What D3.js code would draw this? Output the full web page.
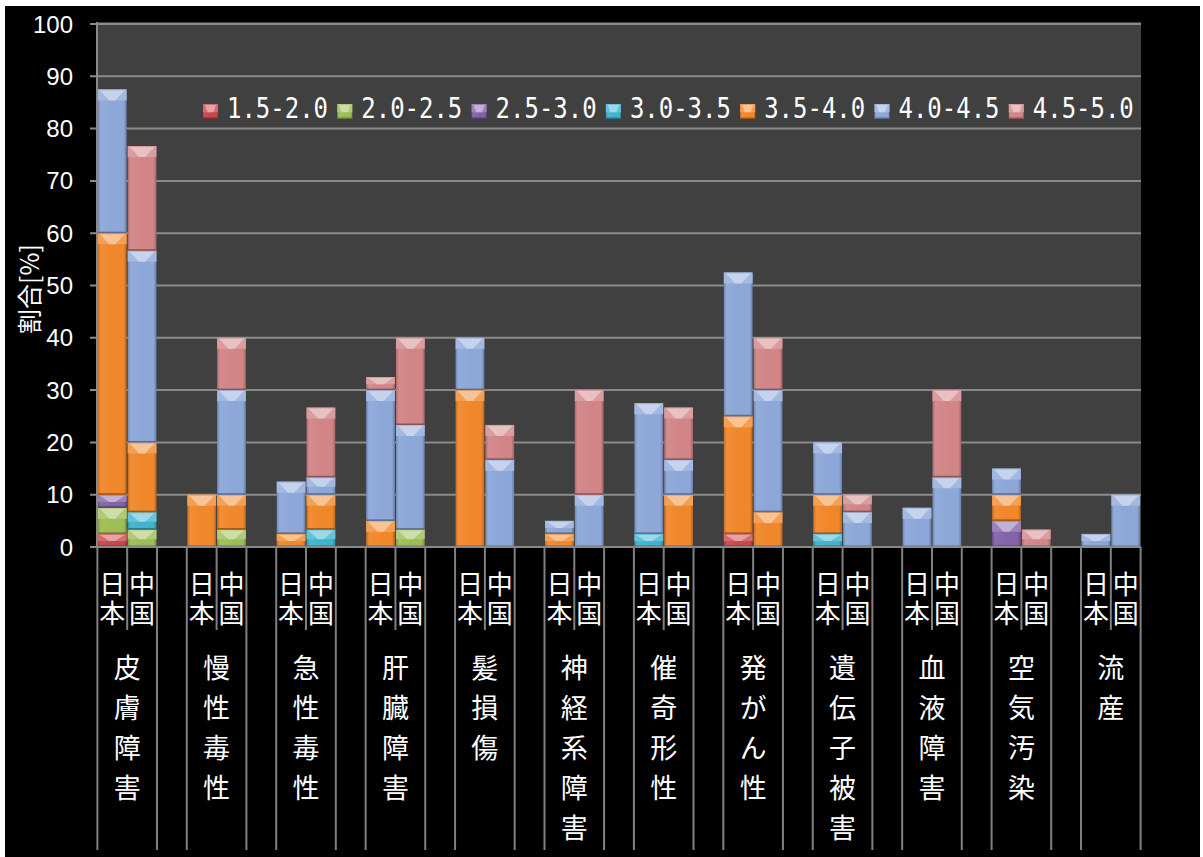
<!DOCTYPE html>
<html>
<head>
<meta charset="utf-8">
<script src="https://cdn.jsdelivr.net/npm/d3@7"></script>
<style>
  html, body { margin: 0; padding: 0; background: #ffffff; }
  svg { display: block; }
  .vert { writing-mode: vertical-rl; text-orientation: upright; }
</style>
</head>
<body>
<svg id="chart" width="1203" height="857"></svg>
<script>
// ---- data -------------------------------------------------------------
const categories = ["皮膚障害", "慢性毒性", "急性毒性", "肝臓障害", "髪損傷", "神経系障害",
                    "催奇形性", "発がん性", "遺伝子被害", "血液障害", "空気汚染", "流産"];
const countries = ["日本", "中国"];
const seriesNames = ["1.5-2.0", "2.0-2.5", "2.5-3.0", "3.0-3.5", "3.5-4.0", "4.0-4.5", "4.5-5.0"];
const seriesColors = ["#c8474b", "#9dbd55", "#8263a8", "#3fb3cf", "#f0872a", "#8ca7d8", "#d18587"];
const yTicks = [0, 10, 20, 30, 40, 50, 60, 70, 80, 90, 100];

// share [%] per category, Japan (日本)
const jp_15_20 = [2.5, 0, 0, 0, 0, 0, 0, 2.5, 0, 0, 0, 0];
const jp_20_25 = [5, 0, 0, 0, 0, 0, 0, 0, 0, 0, 0, 0];
const jp_25_30 = [2.5, 0, 0, 0, 0, 0, 0, 0, 0, 0, 5, 0];
const jp_30_35 = [0, 0, 0, 0, 0, 0, 2.5, 0, 2.5, 0, 0, 0];
const jp_35_40 = [50, 10, 2.5, 5, 30, 2.5, 0, 22.5, 7.5, 0, 5, 0];
const jp_40_45 = [27.5, 0, 10, 25, 10, 2.5, 25, 27.5, 10, 7.5, 5, 2.5];
const jp_45_50 = [0, 0, 0, 2.5, 0, 0, 0, 0, 0, 0, 0, 0];

// share [%] per category, China (中国)
const cn_15_20 = [0, 0, 0, 0, 0, 0, 0, 0, 0, 0, 0, 0];
const cn_20_25 = [3.33, 3.33, 0, 3.33, 0, 0, 0, 0, 0, 0, 0, 0];
const cn_25_30 = [0, 0, 0, 0, 0, 0, 0, 0, 0, 0, 0, 0];
const cn_30_35 = [3.33, 0, 3.33, 0, 0, 0, 0, 0, 0, 0, 0, 0];
const cn_35_40 = [13.33, 6.67, 6.67, 0, 0, 0, 10, 6.67, 0, 0, 0, 0];
const cn_40_45 = [36.67, 20, 3.33, 20, 16.67, 10, 6.67, 23.33, 6.67, 13.33, 0, 10];
const cn_45_50 = [20, 10, 13.33, 16.67, 6.67, 20, 10, 10, 3.33, 16.67, 3.33, 0];

const jpSeries = [jp_15_20, jp_20_25, jp_25_30, jp_30_35, jp_35_40, jp_40_45, jp_45_50];
const cnSeries = [cn_15_20, cn_20_25, cn_25_30, cn_30_35, cn_35_40, cn_40_45, cn_45_50];

// one row per bar; a blank slot separates consecutive categories
const rows = [];
const slotKeys = [];
categories.forEach((cat, ci) => {
  [jpSeries, cnSeries].forEach((src, k) => {
    const row = { key: ci + "-" + k, cat: ci, country: countries[k] };
    seriesNames.forEach((s, si) => { row[s] = src[si][ci]; });
    rows.push(row);
    slotKeys.push(row.key);
  });
  if (ci < categories.length - 1) slotKeys.push(ci + "-gap");
});

// ---- layout -----------------------------------------------------------
const plotL = 97, plotR = 1141, plotT = 22, plotB = 547;
const gridColor = "#8a8a8a";

const svg = d3.select("#chart");
svg.append("rect").attr("x", 5).attr("y", 6).attr("width", 1195).attr("height", 851).attr("fill", "#000");
svg.append("rect").attr("x", plotL).attr("y", plotT).attr("width", plotR - plotL).attr("height", plotB - plotT)
  .attr("fill", "#404040");

const x = d3.scaleBand().domain(slotKeys).range([plotL, plotR]).paddingInner(0.035).paddingOuter(0.03);
const y = d3.scaleLinear().domain([0, 100]).range([plotB, 24]);
const half = (x.step() - x.bandwidth()) / 2;

// gridlines and y ticks
svg.append("g").selectAll("line").data(yTicks).join("line")
  .attr("x1", 90).attr("x2", plotR)
  .attr("y1", d => y(d)).attr("y2", d => y(d))
  .attr("stroke", gridColor).attr("stroke-width", 2);
svg.append("line").attr("x1", plotL).attr("x2", plotL).attr("y1", plotT).attr("y2", plotB)
  .attr("stroke", gridColor).attr("stroke-width", 2);

svg.append("g").selectAll("text").data(yTicks).join("text")
  .attr("x", 73).attr("y", d => y(d))
  .attr("text-anchor", "end").attr("dominant-baseline", "central")
  .attr("font-family", "Liberation Sans, Arial, sans-serif").attr("font-size", 24)
  .attr("fill", "#fff").text(d => d);

svg.append("text")
  .attr("transform", "translate(28,289) rotate(-90)")
  .attr("text-anchor", "middle").attr("dominant-baseline", "central")
  .attr("font-family", "Noto Sans CJK JP, sans-serif").attr("font-size", 25)
  .attr("fill", "#fff").text("割合[%]");

// ---- bars -------------------------------------------------------------
const defs = svg.append("defs");
seriesColors.forEach((c, i) => {
  const g = defs.append("linearGradient").attr("id", "face" + i)
    .attr("x1", 0).attr("x2", 1).attr("y1", 0).attr("y2", 0);
  const dk = d3.interpolateRgb(c, "#000");
  const lt = d3.interpolateRgb(c, "#fff");
  g.append("stop").attr("offset", 0).attr("stop-color", dk(0.18));
  g.append("stop").attr("offset", 0.1).attr("stop-color", lt(0.06));
  g.append("stop").attr("offset", 0.5).attr("stop-color", c);
  g.append("stop").attr("offset", 0.9).attr("stop-color", c);
  g.append("stop").attr("offset", 1).attr("stop-color", dk(0.25));
});

function bevelBlock(g, bx, by, bw, bh, si) {
  const c = seriesColors[si];
  const lt = d3.interpolateRgb(c, "#fff");
  const dk = d3.interpolateRgb(c, "#000");
  g.append("rect").attr("x", bx).attr("y", by).attr("width", bw).attr("height", bh)
    .attr("fill", "url(#face" + si + ")");
  const th = Math.min(11, bh * 0.55);
  g.append("rect").attr("x", bx).attr("y", by).attr("width", bw).attr("height", th)
    .attr("fill", lt(0.2));
  g.append("polygon")
    .attr("points", [[bx + 2, by + 1], [bx + bw - 2, by + 1],
                     [bx + bw / 2 + 3, by + th], [bx + bw / 2 - 3, by + th]].map(p => p.join(",")).join(" "))
    .attr("fill", lt(0.5));
  g.append("rect").attr("x", bx).attr("y", by + bh - 1.5).attr("width", bw).attr("height", 1.5)
    .attr("fill", dk(0.35));
}

const stack = d3.stack().keys(seriesNames);
const layers = stack(rows);
const barG = svg.append("g");
layers.forEach((layer, si) => {
  layer.forEach(d => {
    if (d[1] - d[0] <= 0) return;
    const bx = x(d.data.key);
    const top = y(d[1]);
    bevelBlock(barG, bx, top, x.bandwidth(), y(d[0]) - top, si);
  });
});

// ---- category axis ----------------------------------------------------
const axisG = svg.append("g");
axisG.append("line").attr("x1", 90).attr("x2", plotR).attr("y1", plotB).attr("y2", plotB)
  .attr("stroke", gridColor).attr("stroke-width", 2);

const labelFont = "Noto Sans CJK JP, sans-serif";
categories.forEach((cat, ci) => {
  const jpKey = ci + "-0", cnKey = ci + "-1";
  const left = x(jpKey) - half;
  const mid = x(cnKey) - half;
  const right = x(cnKey) + x.bandwidth() + half;
  [left, right].forEach(lx => {
    axisG.append("line").attr("x1", lx).attr("x2", lx).attr("y1", plotB).attr("y2", 850)
      .attr("stroke", "#808080").attr("stroke-width", 2);
  });
  axisG.append("line").attr("x1", mid).attr("x2", mid).attr("y1", plotB).attr("y2", 630)
    .attr("stroke", "#808080").attr("stroke-width", 2);

  // country labels, set vertically
  [jpKey, cnKey].forEach((key, k) => {
    const cx = x(key) + x.bandwidth() / 2;
    axisG.append("text").attr("class", "vert")
      .attr("x", cx).attr("y", 571)
      .attr("font-family", labelFont).attr("font-size", 26)
      .attr("letter-spacing", 3)
      .attr("fill", "#fff").text(countries[k]);
  });

  // category label, set vertically
  axisG.append("text").attr("class", "vert")
    .attr("x", mid).attr("y", 654.5)
    .attr("font-family", labelFont).attr("font-size", 27)
    .attr("letter-spacing", 13)
    .attr("fill", "#fff").text(cat);
});

// ---- legend -----------------------------------------------------------
const legendG = svg.append("g");
seriesNames.forEach((name, i) => {
  const lx = 203 + i * 134.3;
  bevelBlock(legendG, lx, 104, 15, 15, i);
  legendG.append("text").attr("x", lx + 24).attr("y", 118)
    .attr("font-family", "DejaVu Sans Mono, monospace").attr("font-size", 29)
    .attr("textLength", 101).attr("lengthAdjust", "spacingAndGlyphs")
    .attr("fill", "#fff").text(name);
});
</script>
</body>
</html>
